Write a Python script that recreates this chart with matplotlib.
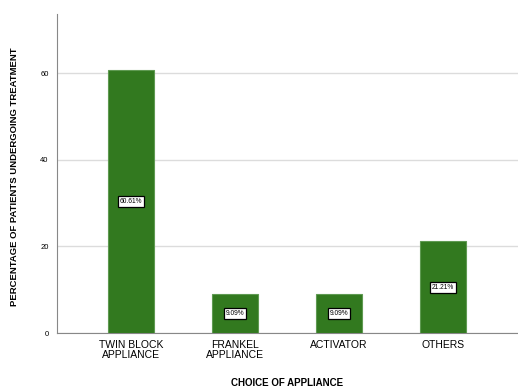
import matplotlib
matplotlib.use("Agg")
import matplotlib.pyplot as plt
import numpy as np

plt.rcParams["font.family"] = ["Liberation Sans", "DejaVu Sans"]

categories = ["TWIN BLOCK\nAPPLIANCE", "FRANKEL\nAPPLIANCE", "ACTIVATOR", "OTHERS"]
percentages = [60.61, 9.09, 9.09, 21.21]
yticks = [0, 20, 40, 60]

fig = plt.figure(figsize=(5.18, 3.92), dpi=100)
ax = fig.add_axes([0.110, 0.1505, 0.89, 0.8135])

x = np.arange(len(categories))
ax.bar(x, percentages, width=0.44, color="#32791f", edgecolor="#5f9a52", linewidth=0.8, zorder=3)

for xi, v in zip(x, percentages):
    ax.text(xi, v / 2, f"{v:.2f}%", ha="center", va="center", fontsize=4.8, zorder=4,
            bbox=dict(boxstyle="square,pad=0.3", facecolor="white", edgecolor="black", linewidth=0.9))

ax.set_xlim(-0.71, 3.72)
ax.set_ylim(0, 73.6)
ax.set_yticks(yticks)
ax.set_yticklabels([str(t) for t in yticks], fontsize=5.5)
ax.set_xticks(x)
ax.set_xticklabels(categories, fontsize=7.5, linespacing=1.0)
ax.tick_params(axis="both", length=0, colors="black")
ax.tick_params(axis="y", pad=6)
ax.tick_params(axis="x", pad=5)

ax.yaxis.grid(True, color="#dcdcdc", linewidth=1, zorder=0)
for s in ["top", "right"]:
    ax.spines[s].set_visible(False)
ax.spines["left"].set_color("#888888")
ax.spines["bottom"].set_color("#888888")

ax.set_ylabel("PERCENTAGE OF PATIENTS UNDERGOING TREATMENT", fontsize=6.8, fontweight="bold")
ax.yaxis.set_label_coords(-0.082, 0.49)
ax.set_xlabel("CHOICE OF APPLIANCE", fontsize=7, fontweight="bold")
ax.xaxis.set_label_coords(0.5, -0.142)

fig.savefig("out.png", dpi=100)
